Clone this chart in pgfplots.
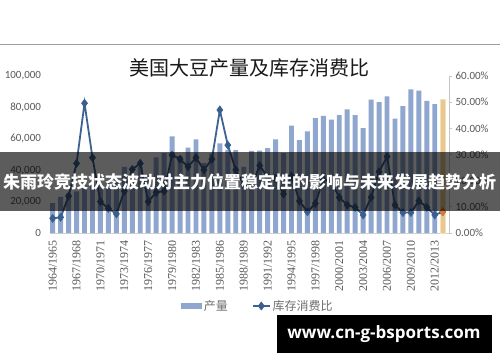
\documentclass[border=0pt]{standalone}
\usepackage{pgfplots}
\usepackage{pgfplotstable}
\pgfplotsset{compat=1.18}
\usepackage{fontspec}
\setmainfont{Carlito}
\newfontfamily\cjk{Noto Sans CJK SC}
\newfontfamily\serifnum{Liberation Serif}
\newfontfamily\wmfont{Open Sans}
\definecolor{barc}{RGB}{143,166,207}
\definecolor{linec}{RGB}{62,98,145}
\definecolor{markc}{RGB}{58,95,142}
\definecolor{tanc}{RGB}{233,200,140}
\definecolor{orangec}{RGB}{224,122,50}
\definecolor{labc}{RGB}{89,89,89}
\definecolor{legc}{RGB}{110,110,110}
\definecolor{titlec}{RGB}{25,25,25}

\pgfplotstableread{
year prod ratio
1964 19076 5.6
1965 23014 6.0
1966 25274 14.1
1967 26565 26.6
1968 30126 49.6
1969 30839 28.8
1970 30675 12.0
1971 32005 9.4
1972 34581 7.3
1973 42118 16.0
1974 33102 24.3
1975 42140 26.6
1976 35071 12.0
1977 48098 15.5
1978 50860 16.0
1979 61525 29.8
1980 48922 28.2
1981 54436 25.3
1982 59611 28.8
1983 44518 24.1
1984 50644 28.2
1985 57128 47.0
1986 52869 33.6
1987 52737 24.1
1988 42153 18.5
1989 52354 18.0
1990 52416 25.8
1991 54065 21.3
1992 59612 20.9
1993 50885 14.9
1994 68444 21.8
1995 59174 12.2
1996 64780 8.1
1997 73176 11.3
1998 74598 20.5
1999 72224 19.6
2000 75055 13.6
2001 78672 10.7
2002 75010 9.8
2003 66783 6.9
2004 85013 13.6
2005 83368 23.4
2006 87001 29.2
2007 72859 10.7
2008 80749 7.8
2009 91417 7.8
2010 90663 12.3
2011 84192 9.8
2012 82055 6.9
2013 85500 8.1
}\datatable

\pgfplotstableread{
year prod ratio
2013 85500 8.1
}\lasttable

\begin{document}
\begin{tikzpicture}[x=1pt,y=1pt]
\useasboundingbox (0,0) rectangle (500,362);
\fill[white] (0,0) rectangle (500,362);
\draw[gray!75, line width=0.9pt] (0,318) -- (500,318);
\node[font=\cjk\fontsize{20}{20}\selectfont, text=titlec] at (249,294) {美国大豆产量及库存消费比};

\begin{axis}[
  at={(49.5pt,129pt)}, anchor=south west,
  scale only axis, width=399.6pt, height=157pt,
  xmin=1963.6, xmax=2013.8, ymin=0, ymax=100000,
  axis x line*=bottom, axis y line*=left,
  x axis line style={draw=gray!35, line width=0.8pt},
  y axis line style={draw=none},
  xtick style={draw=none}, ytick style={draw=none},
  scaled y ticks=false,
  ytick={0,20000,40000,60000,80000,100000},
  yticklabels={0,{20,000},{40,000},{60,000},{80,000},{100,000}},
  yticklabel style={font=\fontsize{11}{11}\selectfont, text=labc},
  yticklabel shift=5pt,
  xtick={1964,1967,1970,1973,1976,1979,1982,1985,1988,1991,1994,1997,2000,2003,2006,2009,2012},
  xticklabels={1964/1965,1967/1968,1970/1971,1973/1974,1976/1977,1979/1980,1982/1983,1985/1986,1988/1989,1991/1992,1994/1995,1997/1998,2000/2001,2003/2004,2006/2007,2009/2010,2012/2013},
  xticklabel style={rotate=90, anchor=east, font=\serifnum\fontsize{12}{12}\selectfont, text=labc},
  xticklabel shift=4pt,
  clip=false,
]
\addplot[ybar, bar width=0.62, bar shift=0pt, fill=barc, draw=none,
  restrict x to domain=1963:2012.5] table[x=year,y=prod]{\datatable};
\addplot[ybar, bar width=0.72, bar shift=0pt, fill=tanc, draw=tanc!55] table[x=year,y=prod]{\lasttable};
\end{axis}

\begin{axis}[
  at={(49.5pt,129pt)}, anchor=south west,
  scale only axis, width=399.6pt, height=157pt,
  xmin=1963.6, xmax=2013.8, ymin=0, ymax=60,
  axis x line=none, axis y line*=right,
  y axis line style={draw=gray!45, line width=0.8pt},
  ytick style={draw=gray!45, line width=0.8pt},
  tick align=outside, major tick length=3pt,
  ytick={0,10,20,30,40,50,60},
  yticklabels={0.00\%,10.00\%,20.00\%,30.00\%,40.00\%,50.00\%,60.00\%},
  yticklabel style={font=\fontsize{11}{11}\selectfont, text=labc},
  legend style={at={(0.522,-0.465)}, anchor=center, draw=none, fill=none,
    legend columns=2, font=\cjk\fontsize{12}{12}\selectfont, text=legc,
    /tikz/every even column/.append style={column sep=22pt}},
  clip=false,
]
\addlegendimage{legend image code/.code={\fill[barc] (0pt,-2.5pt) rectangle (20pt,2.5pt);}}
\addlegendentry{产量}
\addplot[linec, line width=1.8pt, mark=diamond*, mark size=4pt,
  mark options={fill=markc, draw=markc, line width=0.6pt}] table[x=year,y=ratio]{\datatable};
\addlegendentry{库存消费比}
\addplot[only marks, mark=diamond*, mark size=4pt, mark options={fill=orangec, draw=orangec}, forget plot] table[x=year,y=ratio]{\lasttable};
\end{axis}

\fill[black, opacity=0.64] (0,151) rectangle (500,210);
\node[text=white, font=\cjk\bfseries\fontsize{17}{17}\selectfont] at (249.5,180.5) {朱雨玲竞技状态波动对主力位置稳定性的影响与未来发展趋势分析};

\fill[black] (277,9.3) rectangle (491.7,47);
\node[text=white, font=\wmfont\bfseries\fontsize{17}{17}\selectfont] at (384,28) {www.cn-g-bsports.com};
\end{tikzpicture}
\end{document}
